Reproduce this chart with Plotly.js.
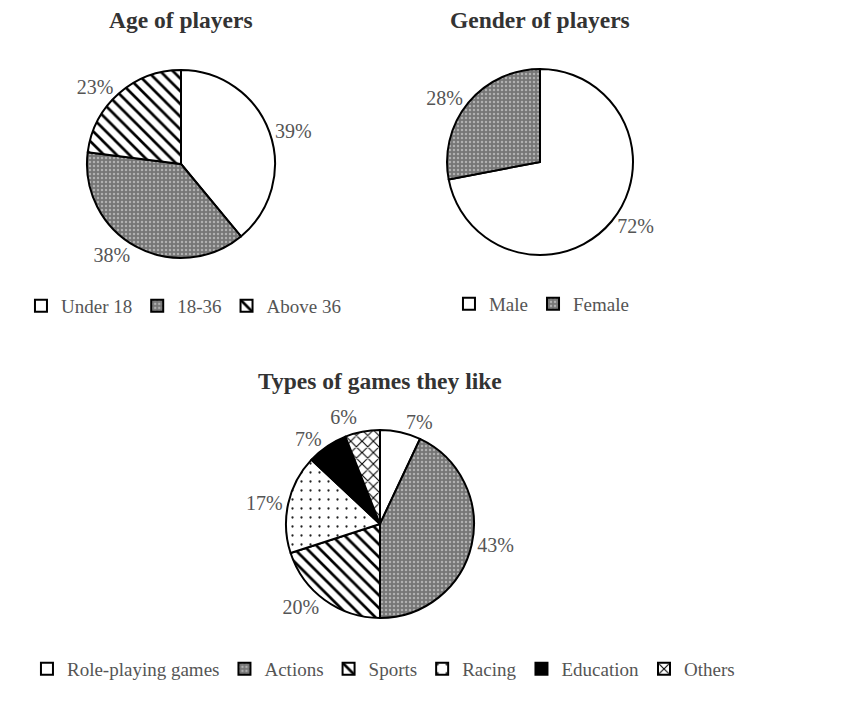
<!DOCTYPE html>
<html>
<head>
<meta charset="utf-8">
<script src="https://cdn.plot.ly/plotly-3.0.1.min.js"></script>
<style>
html,body{margin:0;padding:0;background:#fff;}
#chart{width:856px;height:712px;}
#chart path.textline{stroke-opacity:0 !important;}
</style>
</head>
<body>
<div id="chart"></div>
<script>
// ---- data ----
const ageLabels = ["Under 18", "18-36", "Above 36"];
const ageValues = [39, 38, 23];
const genderLabels = ["Male", "Female"];
const genderValues = [72, 28];
const gameLabels = ["Role-playing games", "Actions", "Sports", "Racing", "Education", "Others"];
const gameValues = [7, 43, 20, 17, 7, 6];
const titles = ["Age of players", "Gender of players", "Types of games they like"];

// ---- styles ----
const FONT = "Liberation Serif, Times New Roman, serif";
const P_WHITE = {shape: "", bgcolor: "#ffffff"};
const P_GRAY = {shape: ".", bgcolor: "#767676", fgcolor: "#b0b0b0", size: 4, solidity: 0.3};
const P_STRIPE = {shape: "\\", bgcolor: "#ffffff", fgcolor: "#000000", size: 9, solidity: 0.3};
const P_DOTS = {shape: ".", bgcolor: "#ffffff", fgcolor: "#222222", size: 9, solidity: 0.05};
const P_BLACK = {shape: "", bgcolor: "#000000"};
const P_CROSS = {shape: "x", bgcolor: "#ffffff", fgcolor: "#000000", size: 8, solidity: 0.25};

function pieTrace(labels, values, colors, patterns, domain, legend) {
  return {
    type: "pie",
    labels: labels,
    values: values,
    sort: false,
    direction: "clockwise",
    rotation: 0,
    textinfo: "percent",
    texttemplate: "%{value}%",
    textposition: "outside",
    automargin: false,
    outsidetextfont: {family: FONT, size: 20, color: "#555555"},
    marker: {
      colors: colors,
      line: {color: "#000000", width: 2},
      pattern: {
        shape: patterns.map(p => p.shape),
        bgcolor: patterns.map(p => p.bgcolor),
        fgcolor: patterns.map(p => p.fgcolor || "#000000"),
        size: patterns.map(p => p.size || 8),
        solidity: patterns.map(p => p.solidity || 0.3),
        fillmode: "replace"
      }
    },
    domain: domain,
    legend: legend,
    hoverinfo: "label+percent"
  };
}

const data = [
  pieTrace(ageLabels, ageValues, ["#ffffff", "#767676", "#ffffff"],
    [P_WHITE, P_GRAY, P_STRIPE], {x: [0.1016, 0.3213], y: [0.6376, 0.9017]}, "legend"),
  pieTrace(genderLabels, genderValues, ["#ffffff", "#767676"],
    [P_WHITE, P_GRAY], {x: [0.5222, 0.7395], y: [0.6419, 0.9031]}, "legend2"),
  pieTrace(gameLabels, gameValues, ["#ffffff", "#767676", "#ffffff", "#ffffff", "#000000", "#ffffff"],
    [P_WHITE, P_GRAY, P_STRIPE, P_DOTS, P_BLACK, P_CROSS], {x: [0.3341, 0.5537], y: [0.1320, 0.3961]}, "legend3")
];

const legendBase = {
  orientation: "h",
  font: {family: FONT, size: 19, color: "#555555"},
  bgcolor: "rgba(0,0,0,0)",
  xanchor: "left",
  yanchor: "middle",
  itemwidth: 30,
  traceorder: "normal"
};

const titleFont = {family: FONT, size: 23.5, color: "#333333", weight: "bold"};

const layout = {
  width: 856,
  height: 712,
  margin: {l: 0, r: 0, t: 0, b: 0},
  paper_bgcolor: "#ffffff",
  showlegend: true,
  legend: Object.assign({}, legendBase, {x: 0.0245, y: 0.5702}),
  legend2: Object.assign({}, legendBase, {x: 0.5245, y: 0.573}),
  legend3: Object.assign({}, legendBase, {x: 0.0315, y: 0.0604}),
  annotations: [
    {text: "<b>" + titles[0] + "</b>", x: 0.2114, y: 0.9719, xref: "paper", yref: "paper", xanchor: "center", yanchor: "middle", showarrow: false, font: titleFont},
    {text: "<b>" + titles[1] + "</b>", x: 0.6308, y: 0.9719, xref: "paper", yref: "paper", xanchor: "center", yanchor: "middle", showarrow: false, font: titleFont},
    {text: "<b>" + titles[2] + "</b>", x: 0.4439, y: 0.4649, xref: "paper", yref: "paper", xanchor: "center", yanchor: "middle", showarrow: false, font: titleFont}
  ]
};

Plotly.newPlot("chart", data, layout, {displayModeBar: false, staticPlot: true});
</script>
</body>
</html>
